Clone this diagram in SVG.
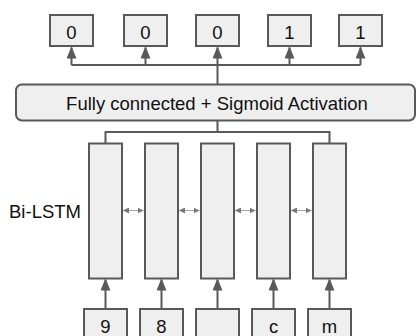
<svg xmlns="http://www.w3.org/2000/svg" width="417" height="336" viewBox="0 0 417 336">
<style>
.box{fill:#efefef;stroke:#595959;stroke-width:2}
.t{font-family:"Liberation Sans",Arial,sans-serif;font-size:18.5px;fill:#111;text-anchor:middle}
.c{fill:none;stroke:#595959;stroke-width:2}
.s{fill:none;stroke:#a6a6a6;stroke-width:1}
</style>
<defs>
<marker id="ah" markerUnits="userSpaceOnUse" markerWidth="12" markerHeight="10" viewBox="0 0 12 10" refX="11" refY="5" orient="auto">
<path d="M0,0 L12,5 L0,10 Z" fill="#595959"/>
</marker>
<marker id="sa" markerUnits="userSpaceOnUse" markerWidth="6" markerHeight="6" viewBox="0 0 6 6" refX="6" refY="3" orient="auto-start-reverse">
<path d="M0,0 L6,3 L0,6 Z" fill="#777"/>
</marker>
</defs>
<rect width="417" height="336" fill="#fff"/>
<g id="connectors">
<path class="c" d="M71.5,65 H360.5"/>
<path class="c" d="M71.5,65 V47.5" marker-end="url(#ah)"/>
<path class="c" d="M145.5,65 V47.5" marker-end="url(#ah)"/>
<path class="c" d="M217.5,84 V47.5" marker-end="url(#ah)"/>
<path class="c" d="M289.5,65 V47.5" marker-end="url(#ah)"/>
<path class="c" d="M360.5,65 V47.5" marker-end="url(#ah)"/>
<path class="c" d="M217.5,121 V132 M105.5,143.5 V132 H329.5 V143.5"/>
<path class="s" d="M123,210.5 H143.5" marker-start="url(#sa)" marker-end="url(#sa)"/>
<path class="s" d="M179,210.5 H199.5" marker-start="url(#sa)" marker-end="url(#sa)"/>
<path class="s" d="M235,210.5 H255.5" marker-start="url(#sa)" marker-end="url(#sa)"/>
<path class="s" d="M291,210.5 H311.5" marker-start="url(#sa)" marker-end="url(#sa)"/>
<path class="c" d="M105.5,309 V279.5" marker-end="url(#ah)"/>
<path class="c" d="M161.5,309 V279.5" marker-end="url(#ah)"/>
<path class="c" d="M217.5,309 V279.5" marker-end="url(#ah)"/>
<path class="c" d="M273.5,309 V279.5" marker-end="url(#ah)"/>
<path class="c" d="M329.5,309 V279.5" marker-end="url(#ah)"/>
</g>
<g id="out1"><rect class="box" x="50" y="15" width="43" height="31"/><text class="t" x="71.5" y="38.5">0</text></g>
<g id="out2"><rect class="box" x="124" y="15" width="43" height="31"/><text class="t" x="145.5" y="38.5">0</text></g>
<g id="out3"><rect class="box" x="196" y="15" width="43" height="31"/><text class="t" x="217.5" y="38.5">0</text></g>
<g id="out4"><rect class="box" x="268" y="15" width="43" height="31"/><text class="t" x="289.5" y="38.5">1</text></g>
<g id="out5"><rect class="box" x="339" y="15" width="43" height="31"/><text class="t" x="360.5" y="38.5">1</text></g>
<g id="fc"><rect class="box" x="16" y="84.5" width="399" height="36" rx="6"/><text class="t" x="217" y="109.5">Fully connected + Sigmoid Activation</text></g>
<g id="bilstm-label"><text class="t" x="45" y="217.5">Bi-LSTM</text></g>
<g id="lstm1"><rect class="box" x="89" y="143.5" width="33" height="135"/></g>
<g id="lstm2"><rect class="box" x="145" y="143.5" width="33" height="135"/></g>
<g id="lstm3"><rect class="box" x="201" y="143.5" width="33" height="135"/></g>
<g id="lstm4"><rect class="box" x="257" y="143.5" width="33" height="135"/></g>
<g id="lstm5"><rect class="box" x="313" y="143.5" width="33" height="135"/></g>
<g id="in1"><rect class="box" x="84" y="309" width="43" height="34"/><text class="t" x="105.5" y="333">9</text></g>
<g id="in2"><rect class="box" x="140" y="309" width="43" height="34"/><text class="t" x="161.5" y="333">8</text></g>
<g id="in3"><rect class="box" x="196" y="309" width="43" height="34"/></g>
<g id="in4"><rect class="box" x="252" y="309" width="43" height="34"/><text class="t" x="273.5" y="333">c</text></g>
<g id="in5"><rect class="box" x="308" y="309" width="43" height="34"/><text class="t" x="329.5" y="333">m</text></g>
</svg>
